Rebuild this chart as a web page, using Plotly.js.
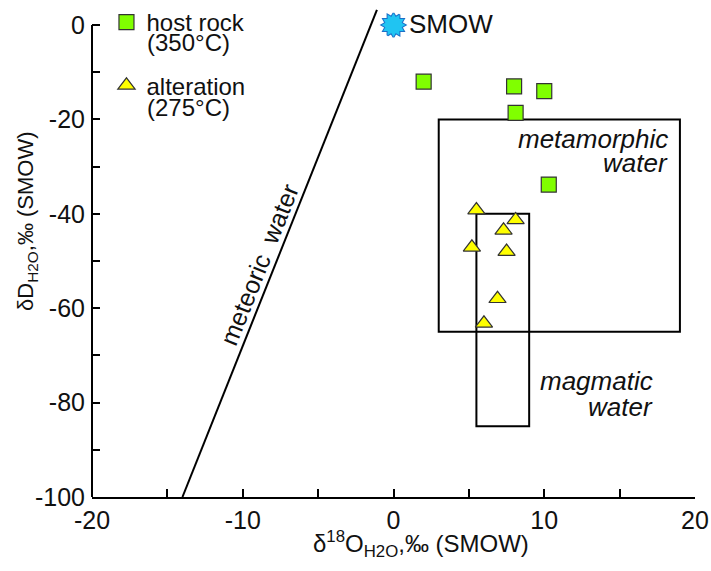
<!DOCTYPE html>
<html>
<head>
<meta charset="utf-8">
<script src="https://cdn.plot.ly/plotly-3.0.1.min.js"></script>
<style>html,body{margin:0;padding:0;background:#fff;}</style>
</head>
<body>
<div id="chart" style="width:711px;height:571px;"></div>
<script>
// ---- data ----
const hostRockX = [2.0, 8.0, 10.0, 8.1, 10.3];
const hostRockY = [-12.0, -13.0, -14.0, -18.6, -33.8];
const alterationX = [5.5, 8.1, 7.3, 5.2, 7.5, 6.9, 6.0];
const alterationY = [-39.2, -41.3, -43.5, -47.1, -48.0, -58.0, -63.2];
const smowX = [0];
const smowY = [0];
const meteoricX = [-14.0, -1.1];
const meteoricY = [-100, 3.2];
const metamorphicX = [3, 19];
const metamorphicY = [-65, -20];
const magmaticX = [5.5, 9];
const magmaticY = [-85, -40];
const xTickVals = [-20, -10, 0, 10, 20];
const xMinorVals = [-15, -5, 5, 15];
const yTickVals = [0, -20, -40, -60, -80, -100];
const yMinorVals = [-10, -30, -50, -70, -90];

const FONT = 'Liberation Sans, Arial, Helvetica, sans-serif';

const traces = [
  {x: meteoricX, y: meteoricY, mode: 'lines', line: {color: '#000', width: 2},
   showlegend: false, hoverinfo: 'skip', cliponaxis: false},
  // SMOW: two rotated hexagrams -> 12-point star (outline layer then fill layer)
  {x: smowX.concat(smowX), y: smowY.concat(smowY), mode: 'markers', showlegend: false, cliponaxis: false,
   marker: {symbol: 'hexagram', size: 18, angle: [0, 30], color: '#20c4f2', line: {color: '#1b6fc8', width: 2}}},
  {x: smowX.concat(smowX), y: smowY.concat(smowY), mode: 'markers', showlegend: false, cliponaxis: false,
   marker: {symbol: 'hexagram', size: 18, angle: [0, 30], color: '#20c4f2', line: {width: 0}}},
  {x: hostRockX, y: hostRockY, mode: 'markers', name: 'host rock', legendgroup: 'a', cliponaxis: false,
   marker: {symbol: 'square', size: 15, color: '#80ff00', line: {color: '#333', width: 1.2}}},
  {x: alterationX, y: alterationY, mode: 'markers', name: 'alteration', legendgroup: 'b', cliponaxis: false,
   marker: {symbol: 'triangle-up', size: 15, color: '#ffff00', line: {color: '#333', width: 1.2}}}
];

function box(xs, ys) {
  return {type: 'rect', xref: 'x', yref: 'y', x0: xs[0], x1: xs[1], y0: ys[0], y1: ys[1],
          line: {color: '#000', width: 2}, fillcolor: 'rgba(0,0,0,0)', layer: 'below'};
}

const shapes = [
  box(metamorphicX, metamorphicY),
  box(magmaticX, magmaticY),
  // y axis line from -100 to 0 only
  {type: 'line', xref: 'paper', yref: 'y', x0: 0, x1: 0, y0: yTickVals[yTickVals.length - 1], y1: yTickVals[0],
   line: {color: '#000', width: 2}}
];

function ann(text, x, y, opts) {
  return Object.assign({text: text, x: x, y: y, xref: 'paper', yref: 'paper', showarrow: false,
    font: {family: FONT, size: 26, color: '#111'}}, opts || {});
}

const annotations = [
  ann('SMOW', 0.522, 0.9517, {xanchor: 'left', yanchor: 'middle'}),
  ann('(350°C)', 0.0907, 0.9135, {xanchor: 'left', yanchor: 'middle', xshift: -2, font: {family: FONT, size: 24, color: '#111'}}),
  ann('(275°C)', 0.0907, 0.7847, {xanchor: 'left', yanchor: 'middle', xshift: -2, font: {family: FONT, size: 24, color: '#111'}}),
  ann('<i>metamorphic</i>', 0.9585, 0.7203, {xanchor: 'right', yanchor: 'middle'}),
  ann('<i>water</i>', 0.9585, 0.672, {xanchor: 'right', yanchor: 'middle'}),
  ann('<i>magmatic</i>', 0.934, 0.2334, {xanchor: 'right', yanchor: 'middle'}),
  ann('<i>water</i>', 0.934, 0.1811, {xanchor: 'right', yanchor: 'middle'}),
  ann('meteoric  water', 0.2770, 0.4668, {xanchor: 'center', yanchor: 'middle', textangle: -68.2,
      font: {family: FONT, size: 25, color: '#111'}}),
  ann('δ<sup>18</sup>O<sub>H2O</sub>,‰ (SMOW)', 0.5456, -0.0946, {xanchor: 'center', yanchor: 'middle',
      font: {family: FONT, size: 24, color: '#111'}}),
  ann('δD<sub>H2O</sub>,‰ (SMOW)', -0.1078, 0.5553, {xanchor: 'center', yanchor: 'middle', textangle: -90,
      font: {family: FONT, size: 22, color: '#111'}})
];

const tickText = v => String(v);

const layout = {
  width: 711, height: 571,
  margin: {l: 92, r: 16, t: 0, b: 74, pad: 0},
  paper_bgcolor: '#fff', plot_bgcolor: '#fff',
  font: {family: FONT, size: 25, color: '#111'},
  showlegend: true,
  legend: {x: 0.024, y: 1, xanchor: 'left', yanchor: 'top', bgcolor: 'rgba(0,0,0,0)',
           font: {family: FONT, size: 24, color: '#111'}, valign: 'middle', traceorder: 'grouped', tracegroupgap: 29},
  xaxis: {range: [-20, 20], showgrid: false, zeroline: false, showline: true, linecolor: '#000', linewidth: 2,
          tickmode: 'array', tickvals: xTickVals, ticktext: xTickVals.map(tickText),
          ticks: 'inside', ticklen: 8, tickwidth: 2, tickcolor: '#000',
          minor: {tickvals: xMinorVals, ticks: 'inside', ticklen: 8, tickwidth: 2, tickcolor: '#000', showgrid: false},
          tickfont: {family: FONT, size: 25, color: '#111'}},
  yaxis: {range: [-100, 5.3], showgrid: false, zeroline: false, showline: false,
          tickmode: 'array', tickvals: yTickVals, ticktext: yTickVals.map(tickText),
          ticks: 'inside', ticklen: 8, tickwidth: 2, tickcolor: '#000', ticklabelstandoff: 6,
          minor: {tickvals: yMinorVals, ticks: 'inside', ticklen: 8, tickwidth: 2, tickcolor: '#000', showgrid: false},
          tickfont: {family: FONT, size: 25, color: '#111'}},
  shapes: shapes,
  annotations: annotations
};

Plotly.newPlot('chart', traces, layout, {displayModeBar: false, staticPlot: true});
</script>
</body>
</html>
